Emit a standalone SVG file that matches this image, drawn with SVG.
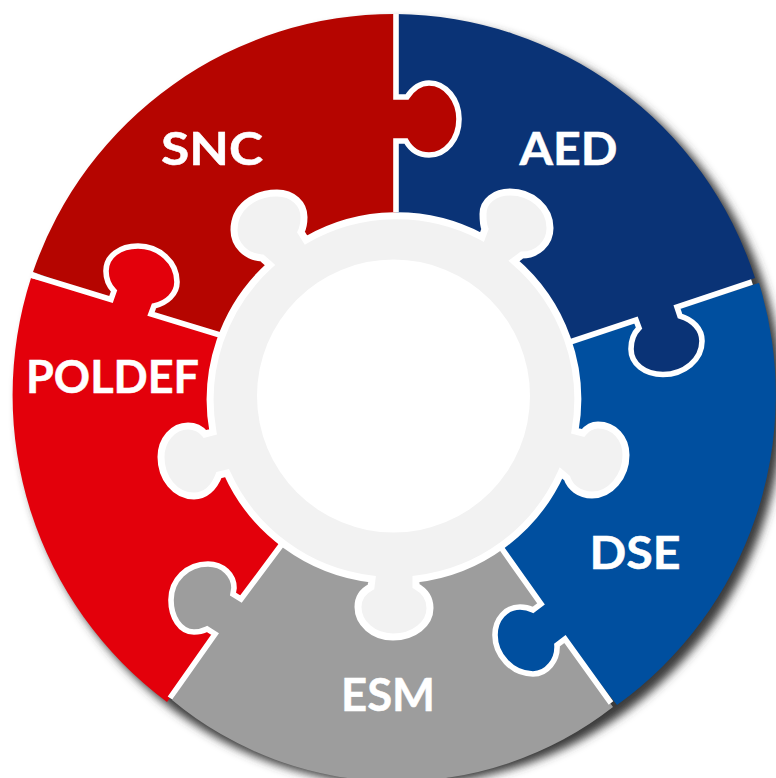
<svg xmlns="http://www.w3.org/2000/svg" width="776" height="778" viewBox="0 0 776 778">
<style>
.lbl{font-family:"Lato","Open Sans","Liberation Sans",sans-serif;font-weight:700;font-size:46px;fill:#fff;stroke:#fff;stroke-width:.5;text-anchor:middle}
.seam{fill:none;stroke:#fff;stroke-width:5.6;stroke-linejoin:miter}
</style>
<defs>
<filter id="sh" x="-10%" y="-10%" width="120%" height="120%"><feGaussianBlur stdDeviation="5"/></filter>
</defs>
<rect width="776" height="778" fill="#fff"/>
<circle id="shadow" cx="401" cy="403" r="382" fill="#3a3a3a" filter="url(#sh)"/>
<g id="SNC"><path fill="#B50500" d="M394,396 L33,272 A382,382 0 0 1 396,14 V97 H407 C413,88 420,83 429,83 C446,83 459,100 459,119 C459,139 446,155 429,155 C419,155 411,150 406,141 H396 V210 Z"/></g>
<g id="POLDEF"><path fill="#E3000B" d="M394,396 L167,702 A382,382 0 0 1 31,278 L111,299.5 L114,291 C109,286 106,279 106,271 C106,256 120,246 138,246 C159,246 177,262 177,282 C177,294 167,303 154,306 L151,314 L218,334 Z"/></g>
<g id="ESM"><path fill="#9D9D9D" d="M394,396 L613,707 A351,351 0 0 1 172,700 L215,634 L207,629 C203,631 199,632 194,632 C180,632 171,617 171,600 C171,580 187,564 208,564 C223,564 234,575 234,588 L233,594 L241,599 L280,546 Z"/></g>
<g id="DSE"><path fill="#004F9F" d="M394,396 L759,283 A382,382 0 0 1 617,705 L565,639 L557,645 C558,660 547,674 533,674 C512,674 495,655 495,635 C495,619 506,607 520,607 C525,607 529,608 533,610 L541,604 L502,548 Z"/></g>
<g id="AED"><path fill="#0A3376" d="M394,396 L396,210 V141 H406 C411,150 419,155 429,155 C446,155 459,139 459,119 C459,100 446,83 429,83 C420,83 413,88 407,97 H396 V14 A382,382 0 0 1 755,278 L677,307 L680,316 C693,320 702,329 702,341 C702,360 684,374.5 663,374.5 C645,374.5 631,364 631,349 C631,340 634,333 639,328 L636,320 L572,341 Z"/></g>
<g id="connectors">
<path class="seam" d="M396,14 V97 H407 C413,88 420,83 429,83 C446,83 459,100 459,119 C459,139 446,155 429,155 C419,155 411,150 406,141 H396 V212"/>
<path class="seam" d="M752,282 L677,307 L680,316 C693,320 702,329 702,341 C702,360 684,374.5 663,374.5 C645,374.5 631,364 631,349 C631,340 634,333 639,328 L636,320 L570,342"/>
<path class="seam" d="M611,703 L565,639 L557,645 C558,660 547,674 533,674 C512,674 495,655 495,635 C495,619 506,607 520,607 C525,607 529,608 533,610 L541,604 L500,546"/>
<path class="seam" d="M170,698 L215,634 L207,629 C203,631 199,632 194,632 C180,632 171,617 171,600 C171,580 187,564 208,564 C223,564 234,575 234,588 L233,594 L241,599 L282,544"/>
<path class="seam" d="M31,275 L111,299.5 L114,291 C109,286 106,279 106,271 C106,256 120,246 138,246 C159,246 177,262 177,282 C177,294 167,303 154,306 L151,314 L220,335"/>
</g>
<g id="hub">
<path fill="#F2F2F2" stroke="#fff" stroke-width="7" stroke-linejoin="miter" d="M270,265 L262,258 C246,257 234,245 234,230 C234,208 253,193 277,193 C293,193 304,204 304,217 C304,223 303,228 301,232 L306,240 A182,182 0 0 1 482,237 L485,229 C483,225 483,219 483,214 C483,201 495,192 510,192 C532,192 550,208 550,228 C550,244 537,255 522,255 L514,261 A182,182 0 0 1 575,431 L583,433 C587,428 592,425 598,425 C614,425 626,438 626,455 C626,477 610,495 592,495 C579,495 570,487 567,478 L561,473 A182,182 0 0 1 416,579 L416,586 C425,591 430,599 430,608 C430,624 414,637 393,637 C373,637 358,623 358,607 C358,598 363,591 371,587 L372,579 A182,182 0 0 1 227,473 L219,475 C214,488 205,496 194,496 C175,496 161,478 161,457 C161,440 173,426 188,426 C195,426 201,429 205,434 L213,432 A182,182 0 0 1 270,265 Z"/>
<circle cx="393.5" cy="396" r="136.5" fill="#fff"/>
</g>
<g id="labels">
<text class="lbl" x="212" y="165" textLength="102" lengthAdjust="spacingAndGlyphs">SNC</text>
<text class="lbl" x="568.5" y="165" textLength="98" lengthAdjust="spacingAndGlyphs">AED</text>
<text class="lbl" x="112.5" y="393" textLength="173" lengthAdjust="spacingAndGlyphs">POLDEF</text>
<text class="lbl" x="635" y="569" textLength="91" lengthAdjust="spacingAndGlyphs">DSE</text>
<text class="lbl" x="388" y="711" textLength="94" lengthAdjust="spacingAndGlyphs">ESM</text>
</g>
</svg>
